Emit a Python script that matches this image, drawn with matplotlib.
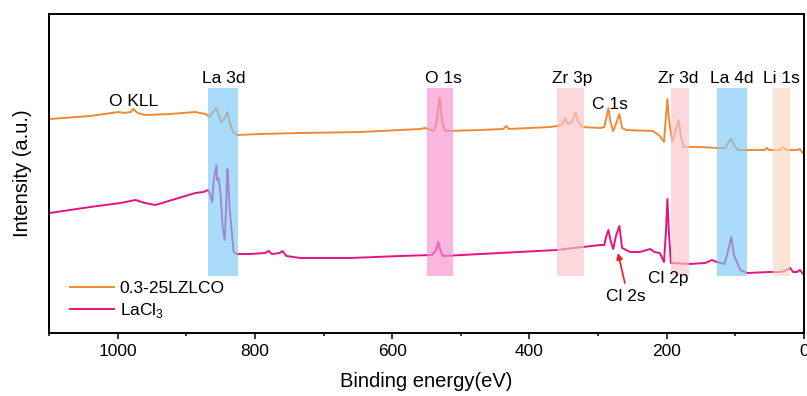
import numpy as np
import matplotlib
matplotlib.use("Agg")
import matplotlib.pyplot as plt
from matplotlib.ticker import MultipleLocator

# survey spectra, binding energy (eV) vs intensity (a.u.)
lzlco_be = [1099, 1040, 999, 990, 981, 977, 971, 960, 923, 887, 872,
            866, 861, 856, 853, 849, 844, 840, 837, 832, 826,
            792, 734, 646, 559, 552, 540, 536, 531, 527, 523,
            472, 438, 434, 430, 370, 360, 352, 348, 344, 338, 333, 329, 323,
            297, 291, 288, 285, 282, 278, 274, 269, 265, 259,
            220, 210, 204, 201, 199, 197, 192, 188, 183, 179, 175,
            151, 127, 115, 111, 106, 102, 96, 57, 54, 51, 35, 31, 26, 10, 6, 3, 0]
lzlco_int = [214, 217, 221, 220, 221, 224, 220, 218, 219, 221, 219,
             216, 221, 225, 218, 211, 215, 221, 211, 201, 198,
             199, 200, 201, 204, 205, 202, 208, 235, 211, 202,
             203, 204, 207, 204, 206, 207, 209, 215, 209, 211, 220, 211, 206,
             205, 206, 215, 225, 211, 202, 209, 219, 205, 203,
             202, 197, 191, 218, 234, 215, 191, 200, 213, 195, 186,
             186, 185, 185, 190, 194, 188, 183, 183, 185, 183, 183, 186, 183, 183, 184, 181, 179]

lacl3_be = [1099, 1040, 996, 974, 960, 945, 916, 887, 875,
            868, 865, 862, 860, 856, 855, 853, 850, 847, 844, 843, 840, 839, 837, 834, 831, 826,
            807, 785, 780, 775, 764, 760, 754, 734, 661, 588,
            542, 536, 533, 530, 526, 443, 360, 297,
            291, 288, 285, 282, 278, 274, 269, 265, 253, 239, 229, 224, 218,
            210, 204, 201, 199, 197, 194, 166, 144, 134, 127,
            116, 112, 106, 102, 93, 83, 50, 35, 28, 20, 16, 10, 6, 0]
lacl3_int = [120, 126, 130, 133, 130, 128, 134, 140, 141,
             143, 138, 131, 153, 168, 153, 155, 138, 106, 93, 108, 164, 153, 126, 103, 81, 79,
             79, 80, 82, 79, 80, 82, 77, 75, 75, 77,
             78, 83, 91, 83, 77, 80, 83, 88,
             88, 97, 103, 93, 84, 97, 107, 85, 81, 81, 83, 84, 81,
             80, 71, 103, 134, 103, 70, 69, 70, 73, 71,
             69, 78, 96, 78, 63, 60, 61, 61, 62, 65, 61, 61, 63, 58]

# highlighted regions (eV) and their labels
band_names = ["La 3d", "O 1s", "Zr 3p", "Zr 3d", "La 4d", "Li 1s"]
band_lo = [824, 511, 320, 167, 83, 20]
band_hi = [868, 550, 360, 194, 127, 45]
band_label_x = [845, 526, 338, 183, 105, 33]
band_colors = ["#7cc8f8", "#f98fcf", "#fbc4ca", "#fbc4ca", "#7cc8f8", "#f9d6bc"]

plt.rcParams.update({
    "font.family": ["Liberation Sans", "DejaVu Sans"],
    "font.size": 12,
    "mathtext.fontset": "custom",
    "mathtext.rm": "Liberation Sans",
})

fig = plt.figure(figsize=(8.07, 3.96), dpi=100)
ax = fig.add_axes([49 / 807, 63 / 396, 755 / 807, 319 / 396])

ax.plot(lzlco_be, lzlco_int, color="#f08a32", lw=1.4, label="0.3-25LZLCO", zorder=2)
ax.plot(lacl3_be, lacl3_int, color="#e8117f", lw=1.4, label="LaCl$_3$", zorder=2)

for lo, hi, c in zip(band_lo, band_hi, band_colors):
    ax.fill_between([lo, hi], 57, 245, color=c, alpha=0.65, lw=0, zorder=3)

for name, x in zip(band_names, band_label_x):
    ax.text(x, 250, name, ha="center", va="baseline", fontsize=12.5)
ax.text(977, 227, "O KLL", ha="center", va="baseline", fontsize=12.5)
ax.text(283, 224, "C 1s", ha="center", va="baseline", fontsize=12.5)
ax.text(259, 32, "Cl 2s", ha="center", va="baseline", fontsize=12.5)
ax.text(198, 50, "Cl 2p", ha="center", va="baseline", fontsize=12.5)
ax.annotate("", xy=(271, 80), xytext=(261, 50),
            arrowprops=dict(arrowstyle="-|>", color="#f01c1c", lw=1.2,
                            mutation_scale=9, shrinkA=0, shrinkB=0))

ax.set_xlim(1100, 0)
ax.set_ylim(0, 319)
ax.xaxis.set_major_locator(MultipleLocator(200))
ax.xaxis.set_minor_locator(MultipleLocator(100))
ax.tick_params(axis="x", which="major", direction="out", length=4.5, width=1.1, labelsize=12.5)
ax.tick_params(axis="x", which="minor", direction="out", length=2.5, width=1.1)
ax.set_yticks([])
for s in ax.spines.values():
    s.set_linewidth(1.4)
ax.set_xlabel("Binding energy(eV)", fontsize=14.5, labelpad=9)
ax.set_ylabel("Intensity (a.u.)", fontsize=14.5, labelpad=12)

ax.legend(loc="upper left", bbox_to_anchor=(0.028, 0.163), frameon=False,
          borderaxespad=0, borderpad=0, handlelength=2.5, handletextpad=0.35,
          labelspacing=0.3, fontsize=12.5)

fig.savefig("out.png", dpi=100, facecolor="white")
